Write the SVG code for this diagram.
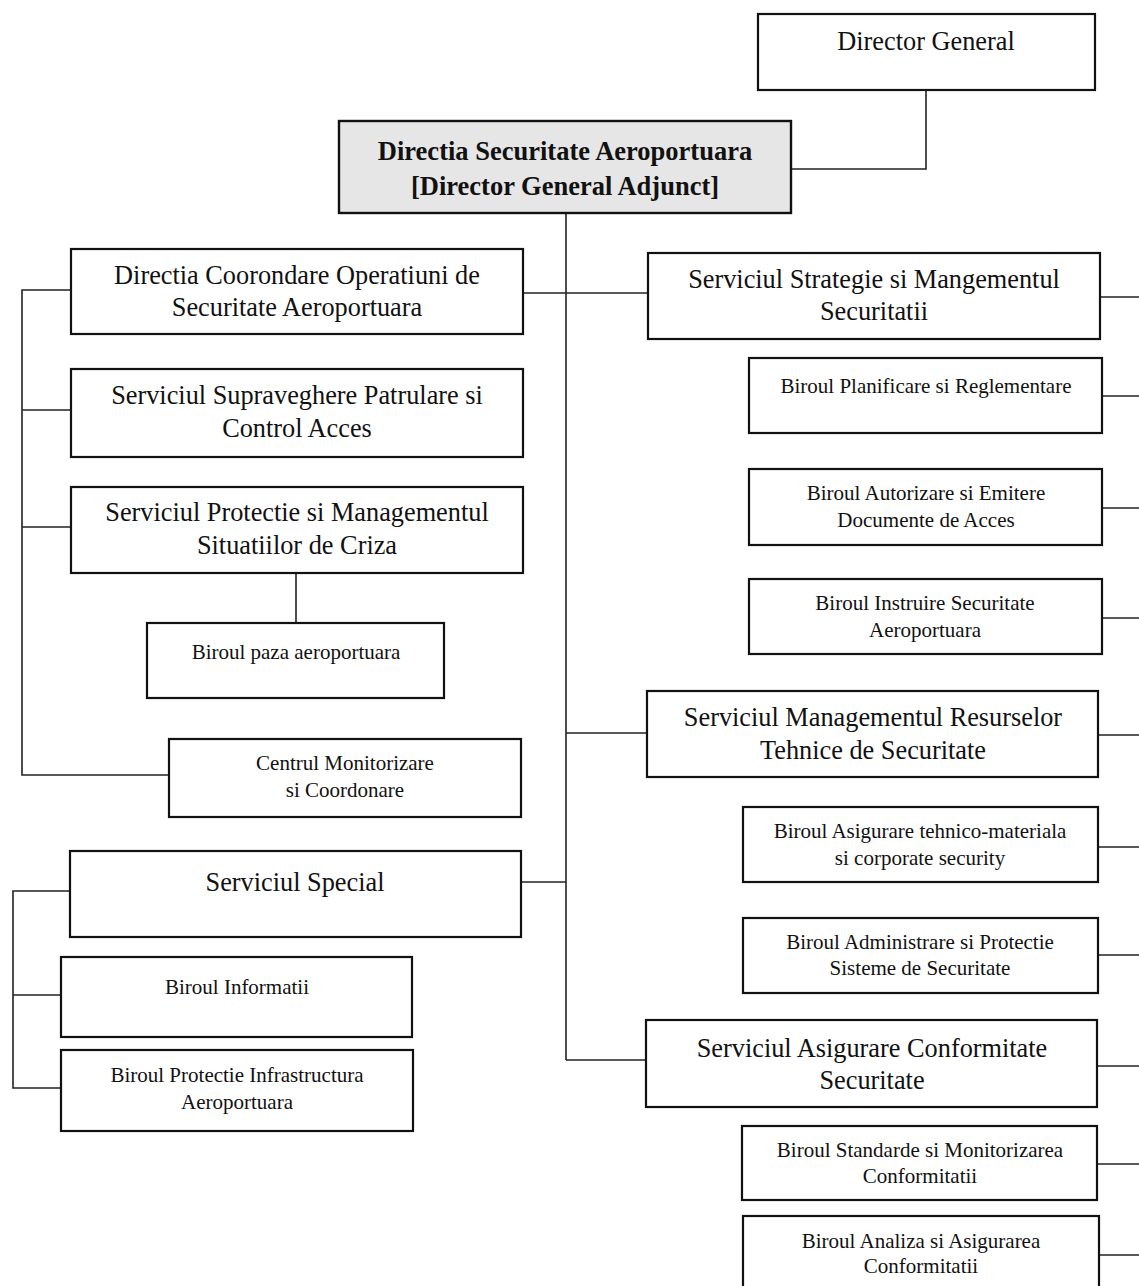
<svg xmlns="http://www.w3.org/2000/svg" width="1139" height="1286" viewBox="0 0 1139 1286">
<style>
.b{fill:#fff;stroke:#111;stroke-width:2.2}
.g{fill:#e6e6e6;stroke:#111;stroke-width:2.4}
.c{fill:none;stroke:#222;stroke-width:1.6}
text{font-family:"Liberation Serif","Times New Roman",serif;fill:#111;text-anchor:middle}
.L{font-size:26.3px}
.S{font-size:21px}
.B{font-size:26.5px;font-weight:bold}
</style>
<rect width="1139" height="1286" fill="#fff"/>
<g id="connectors">
<polyline class="c" points="926,90 926,169 791,169"/>
<line class="c" x1="566" y1="213" x2="566" y2="1060"/>
<line class="c" x1="522" y1="293" x2="648" y2="293"/>
<line class="c" x1="566" y1="733" x2="647" y2="733"/>
<line class="c" x1="521" y1="882" x2="566" y2="882"/>
<line class="c" x1="566" y1="1060" x2="646" y2="1060"/>
<polyline class="c" points="70,290 22,290 22,775 169,775"/>
<line class="c" x1="22" y1="410" x2="70" y2="410"/>
<line class="c" x1="22" y1="527" x2="70" y2="527"/>
<line class="c" x1="296" y1="572" x2="296" y2="623"/>
<polyline class="c" points="70,891 13,891 13,1088 61,1088"/>
<line class="c" x1="13" y1="995" x2="61" y2="995"/>
<line class="c" x1="1100" y1="297" x2="1139" y2="297"/>
<line class="c" x1="1102" y1="396" x2="1139" y2="396"/>
<line class="c" x1="1102" y1="508" x2="1139" y2="508"/>
<line class="c" x1="1102" y1="618" x2="1139" y2="618"/>
<line class="c" x1="1098" y1="735" x2="1139" y2="735"/>
<line class="c" x1="1098" y1="847" x2="1139" y2="847"/>
<line class="c" x1="1098" y1="955" x2="1139" y2="955"/>
<line class="c" x1="1097" y1="1066" x2="1139" y2="1066"/>
<line class="c" x1="1097" y1="1164" x2="1139" y2="1164"/>
<line class="c" x1="1099" y1="1255" x2="1139" y2="1255"/>
</g>
<g id="director-general"><rect class="b" x="758" y="14" width="337" height="76"/><text class="L" x="926" y="50">Director General</text></g>
<g id="directia-securitate"><rect class="g" x="339" y="121" width="452" height="92"/><text class="B" x="565" y="160">Directia Securitate Aeroportuara</text><text class="B" x="565" y="195">[Director General Adjunct]</text></g>
<g id="directia-coorondare"><rect class="b" x="71" y="249" width="452" height="85"/><text class="L" x="297" y="284">Directia Coorondare Operatiuni de</text><text class="L" x="297" y="316">Securitate Aeroportuara</text></g>
<g id="serviciul-supraveghere"><rect class="b" x="71" y="369" width="452" height="88"/><text class="L" x="297" y="404">Serviciul Supraveghere Patrulare si</text><text class="L" x="297" y="437">Control Acces</text></g>
<g id="serviciul-protectie"><rect class="b" x="71" y="487" width="452" height="86"/><text class="L" x="297" y="521">Serviciul Protectie si Managementul</text><text class="L" x="297" y="554">Situatiilor de Criza</text></g>
<g id="biroul-paza"><rect class="b" x="147" y="623" width="297" height="75"/><text class="S" x="296" y="659">Biroul paza aeroportuara</text></g>
<g id="centrul-monitorizare"><rect class="b" x="169" y="739" width="352" height="78"/><text class="S" x="345" y="770">Centrul Monitorizare</text><text class="S" x="345" y="797">si Coordonare</text></g>
<g id="serviciul-special"><rect class="b" x="70" y="851" width="451" height="86"/><text class="L" x="295" y="891">Serviciul Special</text></g>
<g id="biroul-informatii"><rect class="b" x="61" y="957" width="351" height="80"/><text class="S" x="237" y="994">Biroul Informatii</text></g>
<g id="biroul-protectie-infra"><rect class="b" x="61" y="1050" width="352" height="81"/><text class="S" x="237" y="1082">Biroul Protectie Infrastructura</text><text class="S" x="237" y="1109">Aeroportuara</text></g>
<g id="serviciul-strategie"><rect class="b" x="648" y="253" width="452" height="86"/><text class="L" x="874" y="288">Serviciul Strategie si Mangementul</text><text class="L" x="874" y="320">Securitatii</text></g>
<g id="biroul-planificare"><rect class="b" x="749" y="358" width="353" height="75"/><text class="S" x="926" y="393">Biroul Planificare si Reglementare</text></g>
<g id="biroul-autorizare"><rect class="b" x="749" y="469" width="353" height="76"/><text class="S" x="926" y="500">Biroul Autorizare si Emitere</text><text class="S" x="926" y="527">Documente de Acces</text></g>
<g id="biroul-instruire"><rect class="b" x="749" y="579" width="353" height="75"/><text class="S" x="925" y="610">Biroul Instruire Securitate</text><text class="S" x="925" y="637">Aeroportuara</text></g>
<g id="serviciul-resurse"><rect class="b" x="647" y="691" width="451" height="86"/><text class="L" x="873" y="726">Serviciul Managementul Resurselor</text><text class="L" x="873" y="759">Tehnice de Securitate</text></g>
<g id="biroul-asigurare-tehnico"><rect class="b" x="743" y="807" width="355" height="75"/><text class="S" x="920" y="838">Biroul Asigurare tehnico-materiala</text><text class="S" x="920" y="865">si corporate security</text></g>
<g id="biroul-administrare"><rect class="b" x="743" y="918" width="355" height="75"/><text class="S" x="920" y="949">Biroul Administrare si Protectie</text><text class="S" x="920" y="975">Sisteme de Securitate</text></g>
<g id="serviciul-conformitate"><rect class="b" x="646" y="1020" width="451" height="87"/><text class="L" x="872" y="1057">Serviciul Asigurare Conformitate</text><text class="L" x="872" y="1089">Securitate</text></g>
<g id="biroul-standarde"><rect class="b" x="742" y="1126" width="355" height="74"/><text class="S" x="920" y="1157">Biroul Standarde si Monitorizarea</text><text class="S" x="920" y="1183">Conformitatii</text></g>
<g id="biroul-analiza"><rect class="b" x="743" y="1216" width="356" height="75"/><text class="S" x="921" y="1248">Biroul Analiza si Asigurarea</text><text class="S" x="921" y="1273">Conformitatii</text></g>
</svg>
